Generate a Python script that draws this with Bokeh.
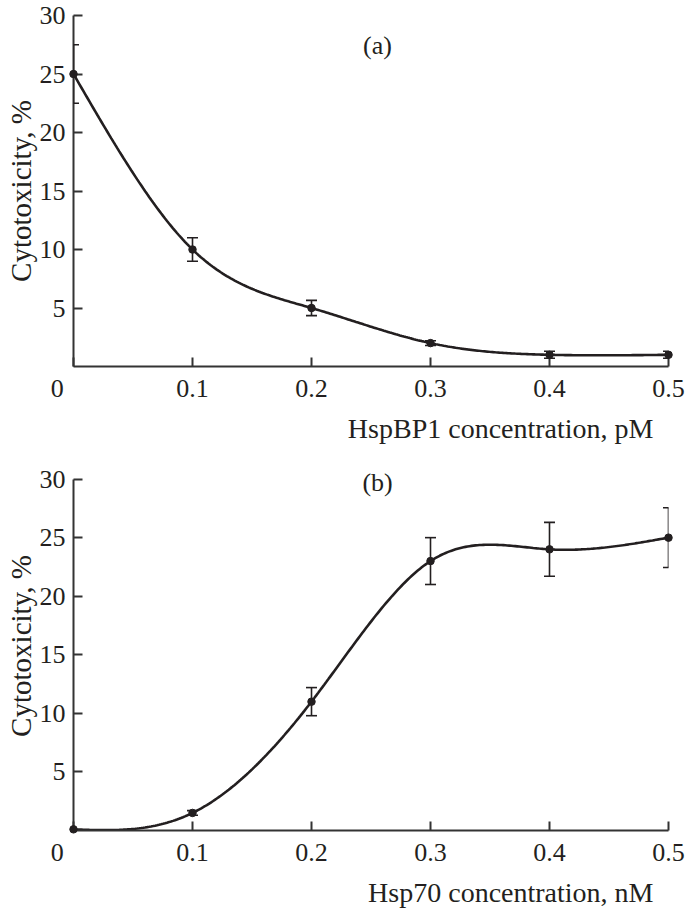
import numpy as np
from bokeh.plotting import figure
from bokeh.layouts import column
from bokeh.models import (ColumnDataSource, Whisker, TeeHead, Label, FixedTicker,
                          Range1d, Title)
from bokeh.embed import file_html
from bokeh.resources import INLINE

# ---------------- data ----------------
conc = [0.0, 0.1, 0.2, 0.3, 0.4, 0.5]
cyto_a = [25.0, 10.0, 5.0, 2.0, 1.0, 1.0]
err_a = [2.5, 1.0, 0.65, 0.2, 0.3, 0.3]
cyto_b = [0.1, 1.5, 11.0, 23.0, 24.0, 25.0]
err_b = [0.0, 0.2, 1.2, 2.0, 2.3, 2.55]
y_ticks = [5, 10, 15, 20, 25, 30]
x_ticks = [0.0, 0.1, 0.2, 0.3, 0.4, 0.5]
x_tick_labels = ["0\u00a0\u00a0\u00a0\u00a0\u00a0", "0.1", "0.2", "0.3", "0.4", "0.5"]
panel_tags = ["(a)", "(b)"]
x_titles = ["HspBP1 concentration, pM", "Hsp70 concentration, nM"]
y_title = "Cytotoxicity, %"

FONT = "Liberation Serif"
INK = "#231f20"
AXC = "#333333"


def natural_spline(x, y, n=300):
    x = np.asarray(x, float)
    y = np.asarray(y, float)
    h = np.diff(x)
    m = len(x)
    A = np.zeros((m - 2, m - 2))
    r = np.zeros(m - 2)
    for i in range(m - 2):
        A[i, i] = 2 * (h[i] + h[i + 1])
        if i + 1 < m - 2:
            A[i, i + 1] = h[i + 1]
            A[i + 1, i] = h[i + 1]
        r[i] = 6 * ((y[i + 2] - y[i + 1]) / h[i + 1] - (y[i + 1] - y[i]) / h[i])
    M = np.zeros(m)
    M[1:-1] = np.linalg.solve(A, r)
    xs = np.linspace(x[0], x[-1], n)
    ys = np.empty_like(xs)
    for k, xv in enumerate(xs):
        i = min(np.searchsorted(x, xv, side="right") - 1, m - 2)
        hi = h[i]
        a = (x[i + 1] - xv) / hi
        b = (xv - x[i]) / hi
        ys[k] = (a * y[i] + b * y[i + 1]
                 + ((a ** 3 - a) * M[i] + (b ** 3 - b) * M[i + 1]) * hi * hi / 6)
    return xs, ys


def make_panel(yv, ev, tag, tag_y, xtitle, height, ytop, top, bottom):
    p = figure(width=685, height=height, output_backend="svg", toolbar_location=None,
               x_range=Range1d(0, 0.5), y_range=Range1d(0, ytop),
               min_border_left=73, min_border_right=17,
               min_border_top=top, min_border_bottom=bottom)
    p.outline_line_color = None
    p.grid.visible = False
    p.background_fill_color = "white"
    p.border_fill_color = "white"

    for ax in (p.xaxis, p.yaxis):
        ax.axis_line_color = AXC
        ax.axis_line_width = 2
        ax.major_tick_line_color = AXC
        ax.major_tick_line_width = 2
        ax.major_tick_in = 9
        ax.major_tick_out = 0
        ax.minor_tick_line_color = None
        ax.major_label_text_font = FONT
        ax.major_label_text_font_size = "26px"
        ax.major_label_text_color = INK
    p.xaxis.ticker = FixedTicker(ticks=x_ticks)
    p.xaxis.major_label_overrides = {t: s for t, s in zip(x_ticks, x_tick_labels)}
    p.xaxis.major_label_standoff = 7
    p.yaxis.ticker = FixedTicker(ticks=y_ticks)
    p.yaxis.bounds = (0, 30)
    p.yaxis.major_label_standoff = 8
    p.yaxis.axis_label = y_title
    p.yaxis.axis_label_text_font = FONT
    p.yaxis.axis_label_text_font_size = "29px"
    p.yaxis.axis_label_text_font_style = "normal"
    p.yaxis.axis_label_text_color = INK
    p.yaxis.axis_label_standoff = 0

    xs, ys = natural_spline(conc, yv)
    p.line(xs, ys, line_color=INK, line_width=2.6)

    sel = [i for i, e in enumerate(ev) if e > 0]
    src = ColumnDataSource(dict(
        x=[conc[i] for i in sel],
        upper=[yv[i] + ev[i] for i in sel],
        lower=[yv[i] - ev[i] for i in sel]))
    w = Whisker(source=src, base="x", upper="upper", lower="lower",
                line_color=INK, line_width=1.6, level="overlay",
                upper_head=TeeHead(size=11, line_color=INK, line_width=1.6),
                lower_head=TeeHead(size=11, line_color=INK, line_width=1.6))
    p.add_layout(w)

    r = p.scatter(conc, yv, size=7.5, marker="circle", fill_color=INK,
                  line_color=INK)
    r.level = "overlay"

    p.add_layout(Label(x=0.2555, y=tag_y, text=tag, text_font=FONT,
                       text_font_size="26px", text_color=INK, text_align="center",
                       text_baseline="middle"))
    p.add_layout(Title(text=xtitle, align="right", offset=15, text_font=FONT,
                       text_font_size="28px", text_font_style="normal",
                       text_color=INK), "below")
    return p


p1 = make_panel(cyto_a, err_a, panel_tags[0], 27.45, x_titles[0], 448, 30, 15, 70)
p2 = make_panel(cyto_b, err_b, panel_tags[1], 29.7, x_titles[1], 464, 31.5, 13, 69)

layout = column(p1, p2, spacing=0)
open("out.html", "w").write(file_html(layout, INLINE))
